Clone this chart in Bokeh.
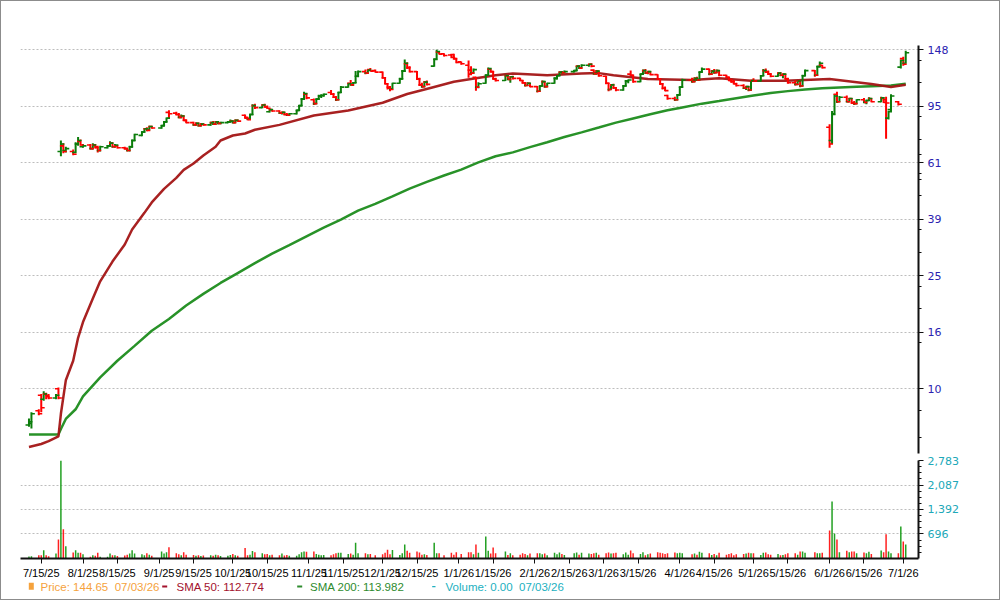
import pandas as pd
from bokeh.plotting import figure
from bokeh.layouts import column
from bokeh.models import (Range1d, FixedTicker, Label, NumeralTickFormatter,
                          ColumnDataSource)
from bokeh.embed import file_html
from bokeh.resources import INLINE

# ---------------- data ----------------
holidays = ["2025-09-01", "2025-11-27", "2025-12-25", "2026-01-01", "2026-01-19",
            "2026-02-16", "2026-04-03", "2026-05-25", "2026-06-19"]
trade_days = [d for d in pd.bdate_range("2025-07-10", "2026-07-02")
              if d.strftime("%Y-%m-%d") not in holidays]

opens = [
    7.5, 7.6,
    8.4, 9.5, 9.2, 9.6, 9.5,
    9.3, 10.0, 66.0, 69.0, 66.5,
    66.0, 65.5, 70.0, 71.5, 68.5,
    69.5, 67.5, 69.5, 68.5, 66.5,
    68.0, 69.0, 70.5, 68.5, 69.0,
    68.0, 67.5, 66.5, 68.5, 72.0,
    75.0, 77.0, 79.0, 78.5, 80.5,
    79.5, 81.0, 83.5, 90.0,
    89.5, 88.5, 86.5, 87.5, 84.5,
    83.0, 81.5, 82.5, 81.0, 82.0,
    81.5, 83.0, 82.0, 83.5, 82.5,
    83.0, 83.5, 84.0, 83.0, 84.5,
    88.0, 86.5, 85.5, 88.5, 95.0,
    93.5, 95.5, 94.0, 90.5, 92.0,
    91.0, 89.5, 90.0, 88.5, 88.0,
    89.0, 91.5, 95.0, 100.0, 104.0,
    99.5, 96.5, 100.0, 102.5, 103.0,
    105.5, 104.0, 101.5, 99.5, 105.5,
    110.0, 113.5, 112.0, 114.0, 120.0,
    124.5, 123.0, 126.5, 125.5,
    124.0, 118.5, 113.0, 110.0, 108.5,
    113.5, 117.5, 125.0, 132.5, 128.5,
    124.5, 117.5, 112.0, 110.5, 114.5,
    130.0, 137.5, 145.5, 143.5,
    142.0, 142.5, 138.0, 134.5,
    131.0, 126.0, 123.0, 119.0, 110.0,
    113.5, 121.0, 127.0, 124.5, 117.5,
    116.0, 120.5, 117.0, 119.5,
    118.0, 116.0, 114.0, 111.5, 113.5,
    110.5, 106.5, 111.0, 115.0, 110.5,
    113.5, 118.0, 120.5, 124.0, 123.5,
    124.5, 125.5, 130.0, 128.0,
    131.0, 132.0, 126.0, 122.5, 125.0,
    120.0, 113.5, 108.0, 112.0, 109.5,
    107.5, 111.0, 115.5, 122.0, 121.0,
    115.0, 122.0, 125.5, 123.0, 124.5,
    121.5, 117.5, 113.0, 109.0, 103.0,
    100.5, 99.5, 103.5, 110.0,
    116.5, 115.0, 118.0, 116.5, 124.0,
    127.0, 122.0, 125.0, 123.5, 125.5,
    121.0, 119.0, 116.0, 115.0, 113.0,
    111.5, 109.0, 110.5, 107.5, 116.0,
    115.5, 120.5, 125.5, 124.0, 122.0,
    120.0, 123.0, 121.0, 122.0, 117.5,
    114.0, 112.5, 115.5, 111.0, 120.5,
    125.5, 121.0, 129.5, 131.0,
    80.0, 72.0, 89.0, 104.0, 98.0,
    101.5, 98.0, 100.5, 97.0, 96.5,
    99.5, 97.5, 99.0, 100.5,
    98.0, 101.0, 99.5, 86.0, 92.0,
    98.0, 129.0, 138.0, 133.0,
]

highs = [
    7.9, 8.3,
    8.5, 9.6, 9.8, 9.7, 9.6,
    9.6, 10.1, 72.0, 70.5, 68.5,
    67.0, 71.0, 74.0, 72.5, 70.0,
    70.0, 70.5, 70.0, 69.0, 69.0,
    69.5, 71.5, 71.0, 70.0, 69.5,
    68.5, 68.0, 69.0, 72.5, 76.0,
    77.5, 79.5, 80.0, 81.0, 81.0,
    81.5, 84.0, 86.5, 91.5,
    90.5, 89.5, 88.5, 88.0, 85.0,
    83.5, 83.0, 83.0, 82.5, 82.5,
    83.5, 84.0, 84.0, 84.0, 83.5,
    84.0, 85.0, 84.5, 85.0, 85.0,
    88.5, 87.0, 89.0, 96.0, 96.5,
    96.0, 96.5, 95.0, 92.5, 92.5,
    91.5, 90.5, 90.5, 89.5, 89.5,
    92.0, 95.5, 101.0, 106.0, 105.0,
    100.5, 100.5, 103.5, 104.0, 104.5,
    107.5, 105.0, 102.5, 106.0, 111.0,
    114.0, 116.5, 114.5, 125.0, 125.5,
    126.5, 126.5, 128.0, 126.5,
    124.5, 119.0, 113.5, 111.0, 114.0,
    118.5, 126.0, 137.0, 134.0, 130.0,
    125.0, 118.5, 114.0, 115.5, 116.0,
    138.0, 148.0, 146.0, 144.0,
    143.0, 143.5, 138.5, 135.0,
    136.0, 130.0, 127.5, 119.5, 114.5,
    122.0, 128.5, 127.5, 125.0, 118.5,
    121.5, 121.0, 120.0, 120.5,
    118.5, 116.5, 114.5, 114.5, 114.0,
    111.0, 111.5, 116.0, 115.5, 114.0,
    119.0, 121.0, 124.5, 125.0, 125.5,
    126.0, 130.5, 131.0, 132.0,
    132.5, 133.0, 126.5, 126.0, 125.5,
    120.5, 114.0, 112.5, 113.0, 110.0,
    112.0, 116.5, 117.0, 125.5, 121.5,
    122.5, 126.5, 127.0, 125.0, 125.0,
    122.0, 118.0, 113.5, 110.5, 103.5,
    102.0, 104.0, 110.5, 117.5,
    118.5, 119.0, 119.5, 124.5, 128.5,
    127.5, 126.0, 127.0, 126.5, 126.0,
    121.5, 119.5, 117.5, 116.5, 114.0,
    112.5, 111.0, 111.0, 116.5, 118.0,
    121.0, 127.0, 127.5, 125.5, 123.0,
    123.5, 124.0, 122.5, 122.5, 118.5,
    116.0, 116.5, 116.0, 121.5, 126.5,
    126.0, 130.5, 135.0, 131.5,
    82.0, 91.0, 104.0, 106.0, 102.5,
    103.0, 101.0, 101.0, 98.5, 100.0,
    101.0, 99.5, 101.5, 101.0,
    102.0, 101.5, 102.0, 91.0, 104.0,
    98.5, 137.0, 140.0, 147.0,
]

lows = [
    7.4, 7.3,
    8.1, 8.3, 9.1, 9.2, 9.2,
    9.2, 9.2, 63.5, 65.0, 65.5,
    64.0, 65.0, 69.0, 69.0, 68.0,
    67.0, 67.0, 67.5, 65.5, 66.0,
    67.5, 68.5, 68.0, 68.0, 67.5,
    67.0, 66.0, 66.0, 68.0, 71.5,
    74.5, 76.5, 77.5, 78.0, 79.0,
    79.0, 80.5, 83.0, 85.5,
    88.0, 86.0, 86.0, 84.0, 82.5,
    81.0, 81.0, 80.5, 80.5, 81.0,
    81.0, 81.5, 81.5, 82.0, 82.0,
    82.5, 83.0, 82.5, 82.5, 83.5,
    85.5, 84.5, 85.0, 88.0, 92.5,
    93.0, 93.5, 92.5, 90.0, 90.5,
    89.0, 88.5, 88.0, 87.5, 87.5,
    88.5, 91.0, 94.5, 99.5, 100.0,
    95.5, 96.0, 99.5, 101.0, 102.0,
    103.5, 101.0, 98.5, 99.0, 105.0,
    109.5, 111.5, 111.0, 113.5, 119.0,
    122.0, 122.5, 124.5, 123.5,
    117.5, 112.5, 108.0, 106.5, 108.0,
    113.0, 117.0, 124.0, 127.0, 123.5,
    116.5, 111.0, 109.5, 110.0, 111.5,
    129.5, 137.0, 142.5, 140.5,
    138.5, 137.0, 133.0, 131.5,
    118.5, 121.0, 122.5, 107.0, 109.0,
    113.0, 120.5, 123.5, 117.0, 115.0,
    115.5, 116.5, 114.0, 117.0,
    115.5, 113.0, 110.5, 111.0, 110.0,
    105.5, 106.0, 110.5, 109.5, 110.0,
    113.0, 117.0, 120.0, 122.5, 123.0,
    123.5, 125.0, 127.5, 127.5,
    129.5, 129.0, 121.5, 121.5, 119.5,
    112.5, 106.5, 107.5, 108.5, 106.5,
    107.0, 110.5, 113.5, 120.5, 114.0,
    114.5, 121.5, 122.5, 122.0, 121.0,
    116.5, 112.0, 108.0, 106.5, 99.5,
    98.5, 99.0, 103.0, 109.5,
    114.0, 114.5, 115.5, 116.0, 123.5,
    121.0, 121.5, 122.5, 123.0, 120.0,
    118.0, 115.5, 114.0, 112.5, 110.5,
    108.5, 107.5, 106.5, 107.0, 115.0,
    115.0, 120.0, 123.0, 121.5, 119.0,
    119.5, 120.0, 118.0, 117.0, 113.0,
    111.5, 112.0, 110.0, 110.5, 120.0,
    119.5, 120.5, 129.0, 127.5,
    68.0, 70.0, 88.5, 97.0, 97.5,
    97.5, 97.5, 96.5, 95.5, 96.0,
    97.0, 96.0, 98.5, 97.5,
    97.5, 97.0, 73.0, 85.0, 91.0,
    95.0, 127.5, 130.5, 132.5,
]

closes = [
    7.7, 8.2,
    8.2, 8.6, 9.6, 9.4, 9.3,
    9.5, 9.3, 70.0, 66.0, 67.5,
    64.5, 70.0, 72.0, 69.5, 69.0,
    67.5, 69.5, 68.0, 66.5, 68.5,
    69.0, 70.5, 68.5, 69.5, 68.0,
    67.5, 66.5, 68.5, 72.0, 75.5,
    77.0, 79.0, 78.0, 80.5, 79.5,
    81.0, 83.5, 86.0, 89.0,
    88.5, 86.5, 87.5, 84.5, 83.0,
    81.5, 82.5, 81.0, 82.0, 81.5,
    83.0, 82.0, 83.5, 82.5, 83.0,
    83.5, 84.0, 83.0, 84.5, 84.0,
    86.0, 85.0, 88.5, 95.0, 93.5,
    95.5, 94.0, 93.0, 92.0, 91.0,
    89.5, 90.0, 88.5, 88.0, 89.0,
    91.5, 95.0, 100.0, 104.5, 101.0,
    96.5, 100.0, 102.5, 103.0, 104.0,
    104.0, 101.5, 99.5, 105.5, 110.0,
    113.0, 112.0, 114.0, 120.0, 124.5,
    123.0, 126.0, 125.0, 124.0,
    118.5, 113.0, 109.0, 108.0, 113.5,
    117.5, 125.0, 133.0, 128.5, 124.5,
    117.5, 112.0, 110.5, 114.5, 112.5,
    137.0, 146.0, 143.0, 141.5,
    139.5, 138.0, 134.0, 132.5,
    122.0, 123.0, 126.5, 110.0, 113.0,
    121.0, 127.5, 124.5, 117.5, 116.0,
    120.5, 117.0, 119.5, 118.0,
    116.0, 114.0, 111.5, 113.5, 110.5,
    106.5, 111.0, 115.0, 110.5, 113.5,
    118.0, 120.5, 124.0, 123.5, 124.5,
    125.5, 130.0, 128.0, 131.0,
    132.0, 130.0, 122.5, 125.0, 120.5,
    113.5, 108.0, 112.0, 109.5, 107.5,
    111.0, 115.5, 116.5, 121.0, 115.0,
    122.0, 125.5, 123.0, 124.5, 121.5,
    117.5, 113.0, 109.0, 107.0, 100.5,
    99.5, 103.5, 110.0, 116.5,
    115.0, 118.0, 116.5, 124.0, 127.0,
    122.0, 125.0, 123.5, 125.5, 121.0,
    119.0, 116.0, 115.0, 113.0, 111.5,
    109.0, 110.5, 107.5, 116.0, 115.5,
    120.5, 125.5, 124.0, 122.0, 120.0,
    123.0, 121.0, 122.0, 117.5, 114.0,
    112.5, 115.5, 111.0, 120.5, 125.5,
    121.0, 129.5, 133.0, 128.5,
    70.0, 88.5, 102.5, 98.0, 101.5,
    98.0, 100.5, 97.0, 96.5, 99.5,
    97.5, 99.0, 100.5, 98.0,
    101.0, 97.5, 97.0, 90.5, 102.5,
    96.0, 136.0, 132.0, 144.65,
]

volumes = [
    60, 66,
    94, 94, 236, 94, 66,
    142, 540, 2783, 833, 350,
    170, 236, 161, 161, 123,
    47, 94, 80, 161, 47,
    47, 142, 90, 94, 70,
    85, 110, 142, 236, 142,
    120, 95, 150, 110, 80,
    200, 140, 180, 320,
    150, 120, 90, 180, 110,
    100, 80, 90, 70, 85,
    95, 75, 110, 90, 70,
    80, 100, 130, 90, 75,
    300, 95, 110, 210, 180,
    150, 120, 130, 95, 110,
    90, 140, 85, 100, 75,
    80, 120, 180, 200, 190,
    200, 130, 110, 90, 100,
    95, 120, 150, 160, 160,
    130, 140, 110, 450, 150,
    150, 120, 130, 90,
    120, 160, 250, 120, 240,
    100, 150, 400, 220, 160,
    200, 170, 110, 120, 100,
    450, 150, 150, 90,
    160, 110, 180, 130,
    180, 180, 120, 400, 160,
    625, 220, 140, 310, 150,
    200, 100, 150, 95,
    110, 150, 130, 90, 140,
    150, 150, 120, 140, 95,
    160, 120, 170, 130, 100,
    150, 170, 110, 160,
    140, 130, 150, 160, 110,
    150, 170, 140, 150, 160,
    120, 170, 110, 230, 150,
    130, 180, 90, 120, 140,
    180, 160, 150, 130, 150,
    170, 150, 160, 150,
    120, 140, 110, 190, 160,
    150, 100, 130, 95, 160,
    110, 130, 150, 90, 120,
    130, 140, 160, 150, 150,
    100, 160, 170, 120, 110,
    130, 90, 100, 120, 150,
    150, 110, 200, 200, 160,
    180, 150, 150, 160,
    795, 1619, 710, 540, 180,
    220, 180, 200, 200, 150,
    170, 150, 190, 130,
    230, 180, 690, 200, 150,
    150, 909, 483, 400,
]

sma50_dates = ["2025-07-10", "2025-07-15", "2025-07-18", "2025-07-22", "2025-07-23",
               "2025-07-25", "2025-07-28", "2025-07-30", "2025-08-01", "2025-08-05",
               "2025-08-08", "2025-08-13", "2025-08-18", "2025-08-21", "2025-08-26",
               "2025-08-29", "2025-09-03", "2025-09-08", "2025-09-11", "2025-09-15",
               "2025-09-19", "2025-09-24", "2025-09-26", "2025-10-01", "2025-10-06",
               "2025-10-10", "2025-10-20", "2025-11-03", "2025-11-17", "2025-12-01",
               "2025-12-11", "2025-12-22", "2025-12-30", "2026-01-06", "2026-01-16",
               "2026-01-23", "2026-02-06", "2026-02-20", "2026-02-27", "2026-03-05",
               "2026-03-19", "2026-04-06", "2026-04-17", "2026-04-30", "2026-05-14",
               "2026-06-01", "2026-06-18", "2026-06-26", "2026-07-02"]
sma50_vals = [6.3, 6.45, 6.6, 6.85, 8.2, 10.7, 12.5, 15.0, 17.0, 20.5,
              23.5, 27.5, 31.5, 35.5, 40.5, 44.0, 49.0, 53.5, 57.0, 60.0,
              63.9, 68.5, 72.0, 74.9, 76.1, 78.4, 81.5, 87.8, 91.4, 97.2,
              104.2, 110.2, 114.8, 117.3, 120.9, 122.6, 120.9, 122.6, 123.0, 120.9,
              117.3, 116.4, 118.0, 115.8, 115.8, 117.3, 112.9, 110.2, 112.2]

sma200_dates = ["2025-07-10", "2025-07-22", "2025-07-23", "2025-07-25", "2025-07-29",
                "2025-08-01", "2025-08-08", "2025-08-15", "2025-08-22", "2025-08-29",
                "2025-09-05", "2025-09-12", "2025-09-19", "2025-09-26", "2025-10-03",
                "2025-10-10", "2025-10-17", "2025-10-24", "2025-10-31", "2025-11-07",
                "2025-11-14", "2025-11-21", "2025-11-28", "2025-12-05", "2025-12-12",
                "2025-12-19", "2025-12-26", "2026-01-02", "2026-01-09", "2026-01-16",
                "2026-01-23", "2026-01-30", "2026-02-06", "2026-02-13", "2026-02-20",
                "2026-02-27", "2026-03-06", "2026-03-13", "2026-03-20", "2026-03-27",
                "2026-04-02", "2026-04-10", "2026-04-17", "2026-04-24", "2026-05-01",
                "2026-05-08", "2026-05-15", "2026-05-22", "2026-05-29", "2026-06-05",
                "2026-06-12", "2026-06-18", "2026-06-26", "2026-07-02"]
sma200_vals = [6.96, 6.96, 7.27, 7.87, 8.5, 9.42, 10.95, 12.5, 14.07, 15.87,
               17.43, 19.4, 21.27, 23.2, 25.1, 27.15, 29.3, 31.35, 33.6, 36.0,
               38.4, 41.2, 43.5, 46.2, 49.1, 51.8, 54.5, 57.1, 60.5, 63.5,
               65.5, 68.3, 71.0, 74.0, 76.8, 79.8, 83.0, 85.8, 88.7, 91.5,
               93.6, 96.5, 98.6, 100.8, 102.9, 105.0, 106.6, 107.9, 109.0, 109.7,
               110.3, 110.8, 111.4, 113.0]

x_tick_dates = ["2025-07-15", "2025-08-01", "2025-08-15", "2025-09-01", "2025-09-15",
                "2025-10-01", "2025-10-15", "2025-11-01", "2025-11-15", "2025-12-01",
                "2025-12-15", "2026-01-01", "2026-01-15", "2026-02-01", "2026-02-15",
                "2026-03-01", "2026-03-15", "2026-04-01", "2026-04-15", "2026-05-01",
                "2026-05-15", "2026-06-01", "2026-06-15", "2026-07-01"]
x_tick_labels = ["7/15/25", "8/1/25", "8/15/25", "9/1/25", "9/15/25", "10/1/25",
                 "10/15/25", "11/1/25", "11/15/25", "12/1/25", "12/15/25", "1/1/26",
                 "1/15/26", "2/1/26", "2/15/26", "3/1/26", "3/15/26", "4/1/26",
                 "4/15/26", "5/1/26", "5/15/26", "6/1/26", "6/15/26", "7/1/26"]

price_ticks = [10.0, 15.67, 24.55, 38.46, 60.25, 94.39, 148.0]
price_tick_labels = ["10", "16", "25", "39", "61", "95", "148"]
price_minor_ticks = [6.8, 8.4, 14.4, 18.9, 22.5, 29.5, 35.5, 46.4, 52.8, 55.2,
                     64.4, 72.5, 87.0, 114.0, 136.0]
vol_ticks = [696, 1392, 2087, 2783]

legend_texts = ["Price: 144.65\u00a0 07/03/26", "SMA 50: 112.774",
                "SMA 200: 113.982", "Volume: 0.00\u00a0 07/03/26"]
legend_colors = ["#f5a23c", "#a3122d", "#2e8b2e", "#22b0c0"]

# ---------------- helpers ----------------
BASE = pd.Timestamp("2025-07-06")


def dnum(seq):
    return [(pd.Timestamp(d) - BASE) / pd.Timedelta(days=1) for d in seq]


n = min(len(trade_days), len(opens), len(highs), len(lows), len(closes), len(volumes))
xs = dnum(trade_days[:n])
up = [closes[i] >= opens[i] for i in range(n)]
TICK = 1.4
src = ColumnDataSource(dict(
    x=xs, xl=[v - TICK for v in xs], xr=[v + TICK for v in xs],
    o=opens[:n], h=highs[:n], l=lows[:n], c=closes[:n], v=volumes[:n],
    zero=[0] * n,
    col=["#0b7d0b" if u else "#ff0000" for u in up],
    vcol=["#22a022" if u else "#ff2020" for u in up],
))

xr = Range1d(0.55, 366.2)
GRID_COLOR = "#bdbdbd"


def style_right_axis(a, color):
    a.axis_line_width = 2
    a.axis_line_color = "#111111"
    a.major_tick_in = 0
    a.major_tick_out = 5
    a.minor_tick_in = 0
    a.minor_tick_out = 3
    a.major_tick_line_color = "#111111"
    a.minor_tick_line_color = "#111111"
    a.major_label_standoff = 4
    a.major_label_text_font = "DejaVu Sans"
    a.major_label_text_font_size = "11px"
    a.major_label_text_color = color


# ---------------- price figure ----------------
p1 = figure(width=998, height=455, x_range=xr, y_range=Range1d(5.98, 153.2),
            y_axis_type="log", y_axis_location="right", x_axis_location=None,
            output_backend="svg", toolbar_location=None,
            min_border_left=19, min_border_right=81, min_border_top=44,
            min_border_bottom=3, outline_line_color=None)
p1.xgrid.visible = False
ax = p1.yaxis[0]
ax.ticker = FixedTicker(ticks=price_ticks, minor_ticks=price_minor_ticks)
ax.major_label_overrides = {t: s for t, s in zip(price_ticks, price_tick_labels)}
style_right_axis(ax, "#2a22b0")
p1.ygrid.ticker = FixedTicker(ticks=price_ticks)
p1.ygrid.grid_line_color = GRID_COLOR
p1.ygrid.grid_line_dash = "2 2"

p1.line(dnum(sma200_dates), sma200_vals, line_color="#1c8c1c", line_width=2.5, line_alpha=0.95)
p1.line(dnum(sma50_dates), sma50_vals, line_color="#a31515", line_width=2.5, line_alpha=0.95)

p1.segment(x0="x", y0="l", x1="x", y1="h", line_color="col", line_width=2, source=src)
p1.segment(x0="xl", y0="o", x1="x", y1="o", line_color="col", line_width=1.6, source=src)
p1.segment(x0="x", y0="c", x1="xr", y1="c", line_color="col", line_width=1.6, source=src)

p1.add_layout(Label(x=460, y=443, x_units="screen", y_units="screen",
                    text="Technical Analysis Since 07/10/25", text_align="center",
                    text_baseline="middle", text_font="Liberation Sans",
                    text_font_style="bold", text_font_size="14.5px",
                    text_color="#000000"))

# ---------------- volume figure ----------------
p2 = figure(width=998, height=125, x_range=xr, y_range=Range1d(0, 2783),
            y_axis_location="right", output_backend="svg", toolbar_location=None,
            min_border_left=19, min_border_right=81, min_border_top=4,
            min_border_bottom=23, outline_line_color=None)
p2.xgrid.visible = False
p2.ygrid.ticker = FixedTicker(ticks=vol_ticks[:-1])
p2.ygrid.grid_line_color = GRID_COLOR
p2.ygrid.grid_line_dash = "2 2"

vax = p2.yaxis[0]
vax.ticker = FixedTicker(ticks=vol_ticks,
                         minor_ticks=[174 * k for k in range(1, 16) if k % 4 != 0])
vax.formatter = NumeralTickFormatter(format="0,0")
style_right_axis(vax, "#20a8b8")

xax = p2.xaxis[0]
xt = dnum(x_tick_dates)
xax.ticker = FixedTicker(ticks=xt)
xax.major_label_overrides = {t: s for t, s in zip(xt, x_tick_labels)}
xax.axis_line_width = 2
xax.axis_line_color = "#111111"
xax.major_tick_in = 0
xax.major_tick_out = 5
xax.minor_tick_line_color = None
xax.major_tick_line_color = "#111111"
xax.major_label_standoff = 3
xax.major_label_text_font = "Liberation Sans"
xax.major_label_text_font_size = "11px"
xax.major_label_text_color = "#000000"

p2.segment(x0="x", y0="zero", x1="x", y1="v", line_color="vcol", line_width=1.5, source=src)

# ---------------- legend strip ----------------
# x in canvas pixels (frame spans canvas 19..917 like the panes above)
p3 = figure(width=998, height=18, x_range=Range1d(19, 917), y_range=Range1d(0, 18),
            x_axis_location=None, y_axis_location=None, output_backend="svg",
            toolbar_location=None, min_border_left=19, min_border_right=81,
            min_border_top=0, min_border_bottom=0, outline_line_color=None)
p3.grid.visible = False
leg_src = ColumnDataSource(dict(
    x=[39, 175, 308.5, 444], y=[12.3] * 4, t=legend_texts, c=legend_colors,
    ml=[27.3, 160.7, 295.7, 430.7], mr=[32.3, 165.7, 300.7, 434.0],
    mb=[9.7, 12.0, 12.0, 12.2], mt=[16.7, 14.0, 14.0, 13.6],
))
p3.quad(left="ml", right="mr", bottom="mb", top="mt", fill_color="c", line_color=None,
        source=leg_src)
p3.text(x="x", y="y", text="t", text_color="c", text_baseline="middle",
        text_font_size="11.5px", text_font={"value": "Liberation Sans"}, source=leg_src)

layout = column(p1, p2, p3, styles={"border": "1px solid #8c8c8c"})
open("out.html", "w").write(file_html(layout, INLINE, title="Technical Analysis"))
